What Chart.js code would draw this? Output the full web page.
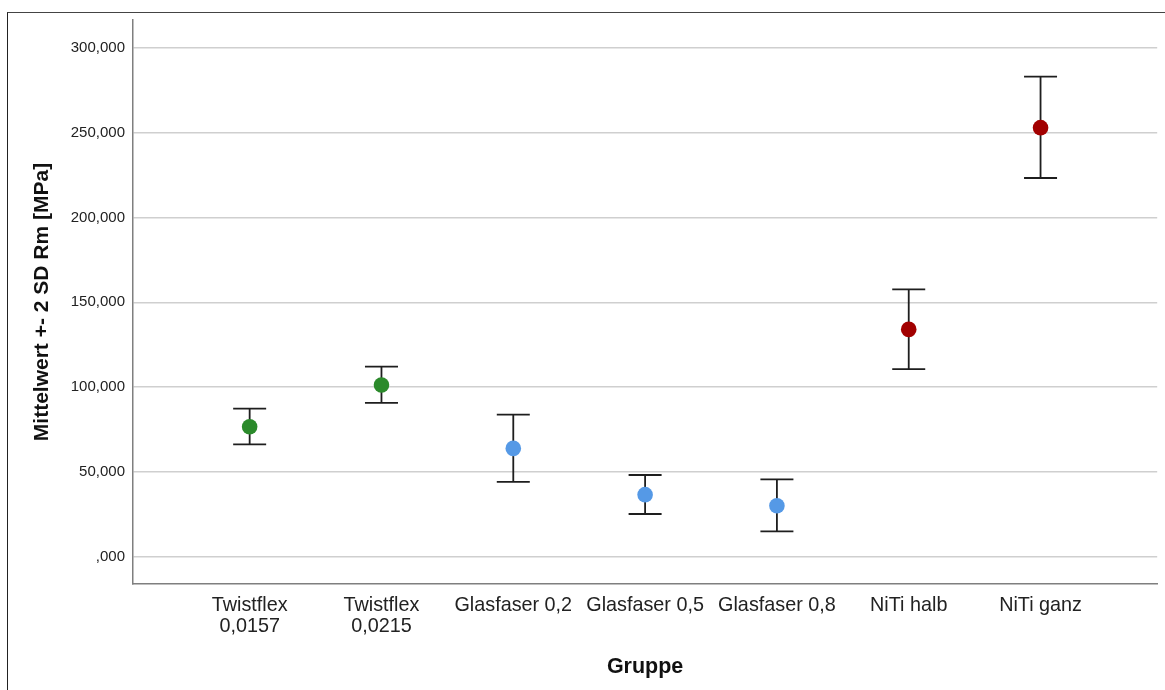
<!DOCTYPE html>
<html>
<head>
<meta charset="utf-8">
<script src="https://cdn.jsdelivr.net/npm/chart.js@4"></script>
<style>
  html, body { margin: 0; padding: 0; background: #fff; }
  #wrap { position: relative; width: 1165px; height: 690px; overflow: hidden; }
  #frame { position: absolute; left: 7px; top: 12px; width: 1200px; height: 720px;
           border-left: 1.5px solid #222; border-top: 1.5px solid #444; pointer-events: none; }
  canvas { position: absolute; left: 0; top: 0; }
</style>
</head>
<body>
<div id="wrap">
  <canvas id="c" width="1165" height="690"></canvas>
  <div id="frame"></div>
</div>
<script>
const categories = [["Twistflex", "0,0157"], ["Twistflex", "0,0215"], "Glasfaser 0,2", "Glasfaser 0,5", "Glasfaser 0,8", "NiTi halb", "NiTi ganz"];
const means = [76.6, 101.2, 63.8, 36.5, 30.0, 134.0, 253.0];
const upper = [87.2, 112.0, 83.7, 48.1, 45.5, 157.6, 283.1];
const lower = [66.2, 90.7, 44.0, 25.1, 14.9, 110.6, 223.3];
const pointColors = ["#2b8a2b", "#2b8a2b", "#5599e6", "#5599e6", "#5599e6", "#a20000", "#a20000"];
const yTicks = [0, 50, 100, 150, 200, 250, 300];

const FONT = "'Liberation Sans', Arial, sans-serif";

const errorBars = {
  id: 'errorBars',
  beforeDatasetsDraw(chart) {
    const ctx = chart.ctx;
    const xs = chart.scales.x, ys = chart.scales.y;
    ctx.save();
    ctx.strokeStyle = '#1e1e1e';
    ctx.lineWidth = 1.8;
    const half = 16.5;
    categories.forEach((c, i) => {
      const x = xs.getPixelForValue(i);
      const yU = ys.getPixelForValue(upper[i]);
      const yL = ys.getPixelForValue(lower[i]);
      ctx.beginPath();
      ctx.moveTo(x, yU); ctx.lineTo(x, yL);
      ctx.moveTo(x - half, yU); ctx.lineTo(x + half, yU);
      ctx.moveTo(x - half, yL); ctx.lineTo(x + half, yL);
      ctx.stroke();
    });
    ctx.restore();
  }
};

new Chart(document.getElementById('c'), {
  type: 'scatter',
  data: {
    datasets: [{
      data: categories.map((c, i) => ({ x: i, y: means[i] })),
      pointBackgroundColor: pointColors,
      pointBorderWidth: 0,
      pointRadius: 7.8,
      pointHoverRadius: 7.8
    }]
  },
  options: {
    responsive: false,
    animation: false,
    events: [],
    layout: { padding: { top: 20, right: 7, left: 0, bottom: 0 } },
    plugins: { legend: { display: false }, tooltip: { enabled: false } },
    scales: {
      x: {
        type: 'linear',
        min: -0.885,
        max: 6.885,
        afterFit(s) { s.height = 106; },
        afterBuildTicks(s) { s.ticks = categories.map((c, i) => ({ value: i })); },
        grid: { display: false, drawTicks: false },
        border: { display: true, color: '#7f7f7f', width: 1.5 },
        ticks: {
          autoSkip: false,
          maxRotation: 0,
          padding: 11.5,
          color: '#222',
          font: { family: FONT, size: 19.8, lineHeight: '21px' },
          callback: (v) => categories[v]
        },
        title: {
          display: true,
          text: 'Gruppe',
          color: '#111',
          font: { family: FONT, size: 21.5, weight: 'bold', lineHeight: 1.2 },
          padding: { top: 0, bottom: 10 }
        }
      },
      y: {
        min: -16.2,
        max: 316.5,
        afterFit(s) { s.width = 133; },
        afterBuildTicks(s) { s.ticks = yTicks.map(v => ({ value: v })); },
        grid: { color: '#cfcfcf', lineWidth: 1.5, drawTicks: false },
        border: { display: true, color: '#7f7f7f', width: 1.5 },
        ticks: {
          padding: 8,
          color: '#222',
          font: { family: FONT, size: 15 },
          callback: (v) => { const s = v.toFixed(3).replace('.', ','); return v === 0 ? s.slice(1) : s; }
        },
        title: {
          display: true,
          text: 'Mittelwert +- 2 SD Rm [MPa]',
          color: '#111',
          font: { family: FONT, size: 21, weight: 'bold', lineHeight: 1.2 },
          padding: { top: 30, bottom: 0 }
        }
      }
    }
  },
  plugins: [errorBars]
});
</script>
</body>
</html>
